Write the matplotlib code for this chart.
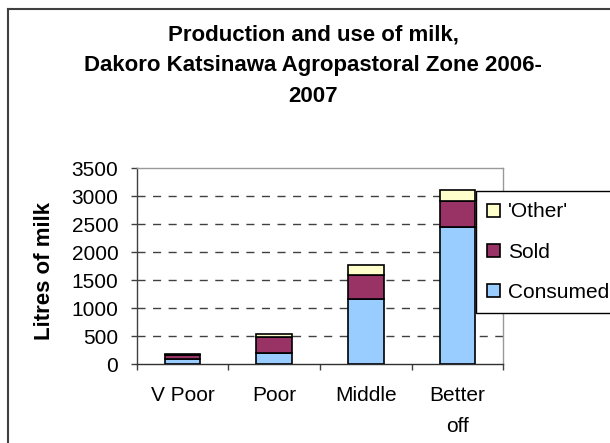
import matplotlib
matplotlib.use("Agg")
import matplotlib.pyplot as plt
from matplotlib.lines import Line2D
import numpy as np

plt.rcParams['font.family'] = ['Liberation Sans', 'DejaVu Sans']

categories = ["V Poor", "Poor", "Middle", "Better\noff"]
consumed = [95, 210, 1165, 2450]
sold = [80, 285, 430, 465]
other = [15, 40, 185, 190]
yticks = [0, 500, 1000, 1500, 2000, 2500, 3000, 3500]
title = "Production and use of milk,\nDakoro Katsinawa Agropastoral Zone 2006-\n2007"
ylabel = "Litres of milk"

W, H = 610, 443
fig = plt.figure(figsize=(W / 100, H / 100), dpi=100)
fig.patch.set_facecolor('white')

def fx(px):
    return px / W

def fy(py):
    return 1 - py / H

left, right, top, bottom = 136.7, 503.3, 168.3, 364.3
ax = fig.add_axes([fx(left), fy(bottom), fx(right) - fx(left), fy(top) - fy(bottom)])

x = np.arange(len(categories))
bw = 0.39
edge = dict(edgecolor='black', linewidth=1.2)
consumed_a = np.array(consumed)
sold_a = np.array(sold)
other_a = np.array(other)
ax.bar(x, consumed_a, bw, color='#99CCFF', label='Consumed', zorder=3, **edge)
ax.bar(x, sold_a, bw, bottom=consumed_a, color='#993366', label='Sold', zorder=3, **edge)
ax.bar(x, other_a, bw, bottom=consumed_a + sold_a, color='#FFFFCC', label="'Other'", zorder=3, **edge)

ax.set_xlim(-0.5, len(categories) - 0.5)
ax.set_ylim(0, 3500)
ax.set_yticks(yticks)
ax.set_yticklabels([str(v) for v in yticks], fontsize=15)
ax.set_xticks(np.arange(-0.5, len(categories), 1.0))
ax.set_xticklabels([])
ax.set_xticks(x, labels=categories, minor=True)
ax.tick_params(axis='x', which='minor', length=0, pad=15.5, labelsize=15)
ax.tick_params(axis='x', which='major', length=4.3, direction='out', color='#404040', width=1.0)
ax.tick_params(axis='y', length=4.3, direction='out', color='#404040', width=1.0, pad=8.9)
for lbl in ax.get_xticklabels(minor=True):
    lbl.set_linespacing(1.78)

ax.set_axisbelow(True)
ax.grid(axis='y', color='#404040', linestyle=(0, (5.8, 5.4)), linewidth=1.0)
ax.get_ygridlines()[-1].set_visible(False)
ax.get_ygridlines()[0].set_visible(False)

ax.spines['left'].set_color('#404040')
ax.spines['bottom'].set_color('#303030')
ax.spines['top'].set_color('#999999')
ax.spines['right'].set_color('#999999')
for s in ax.spines.values():
    s.set_linewidth(1.0)

handles, labels = ax.get_legend_handles_labels()
leg = fig.legend(handles[::-1], labels[::-1], loc='upper left',
                 bbox_to_anchor=(fx(475.7), fy(191)), bbox_transform=fig.transFigure,
                 borderaxespad=0, fontsize=15, frameon=True, fancybox=False,
                 edgecolor='black', framealpha=1, borderpad=0.55,
                 handlelength=0.62, handleheight=0.58, handletextpad=0.37,
                 labelspacing=1.02)
leg.get_frame().set_linewidth(1.0)
for h in leg.legend_handles:
    h.set_linewidth(1.2)
    h.set_edgecolor('black')

fig.text(fx(313), fy(65.7), title, ha='center', va='center', fontsize=16,
         fontweight='bold', linespacing=1.62)
fig.text(fx(45), fy(271), ylabel, ha='center', va='center', fontsize=16,
         fontweight='bold', rotation=90)

fig.add_artist(Line2D([fx(8), fx(8)], [fy(9), fy(460)], color='#404040', linewidth=1.5,
                      transform=fig.transFigure))
fig.add_artist(Line2D([fx(8), fx(640)], [fy(9), fy(9)], color='#404040', linewidth=1.5,
                      transform=fig.transFigure))

fig.savefig('out.png', dpi=100)
